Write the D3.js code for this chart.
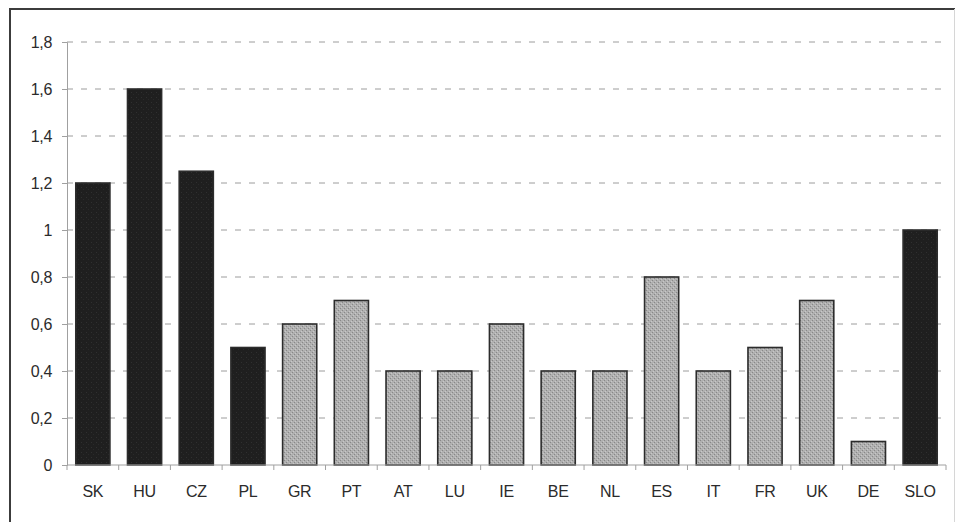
<!DOCTYPE html>
<html>
<head>
<meta charset="utf-8">
<script src="https://cdn.jsdelivr.net/npm/d3@7"></script>
<style>
  html, body { margin: 0; padding: 0; background: #fff; }
  svg { display: block; }
</style>
</head>
<body>
<svg id="chart" width="956" height="522"></svg>
<script>
// Countries, their values and which group each belongs to
const countries = ["SK","HU","CZ","PL","GR","PT","AT","LU","IE","BE","NL","ES","IT","FR","UK","DE","SLO"];
const values    = [1.2, 1.6, 1.25, 0.5, 0.6, 0.7, 0.4, 0.4, 0.6, 0.4, 0.4, 0.8, 0.4, 0.5, 0.7, 0.1, 1.0];
const groups    = ["new","new","new","new","old","old","old","old","old","old","old","old","old","old","old","old","new"];
const yTicks    = [0, 0.2, 0.4, 0.6, 0.8, 1, 1.2, 1.4, 1.6, 1.8];

const svg = d3.select("#chart");
const plot = { left: 67, right: 946, top: 42, bottom: 465 };
const font = "Liberation Sans, Arial, sans-serif";

// Stippled fills for the two bar groups
const defs = svg.append("defs");
const light = defs.append("pattern")
  .attr("id", "stippleLight").attr("patternUnits", "userSpaceOnUse")
  .attr("width", 4).attr("height", 4);
light.append("rect").attr("width", 4).attr("height", 4).attr("fill", "#b0b0b0");
light.append("rect").attr("x", 0).attr("y", 0).attr("width", 1).attr("height", 1).attr("fill", "#888888");
light.append("rect").attr("x", 2).attr("y", 2).attr("width", 1).attr("height", 1).attr("fill", "#888888");
light.append("rect").attr("x", 1).attr("y", 3).attr("width", 1).attr("height", 1).attr("fill", "#c8c8c8");
light.append("rect").attr("x", 3).attr("y", 1).attr("width", 1).attr("height", 1).attr("fill", "#c8c8c8");

const dark = defs.append("pattern")
  .attr("id", "stippleDark").attr("patternUnits", "userSpaceOnUse")
  .attr("width", 5).attr("height", 5);
dark.append("rect").attr("width", 5).attr("height", 5).attr("fill", "#1f1f1f");
dark.append("rect").attr("x", 1).attr("y", 2).attr("width", 1).attr("height", 1).attr("fill", "#303030");
dark.append("rect").attr("x", 3).attr("y", 4).attr("width", 1).attr("height", 1).attr("fill", "#2a2a2a");

// Outer frame: strong top and left edges, faint right edge
svg.append("line").attr("x1", 9).attr("x2", 955).attr("y1", 9).attr("y2", 9)
  .attr("stroke", "#3c3c3c").attr("stroke-width", 2);
svg.append("line").attr("x1", 10).attr("x2", 10).attr("y1", 8).attr("y2", 522)
  .attr("stroke", "#3c3c3c").attr("stroke-width", 2);
svg.append("line").attr("x1", 954.5).attr("x2", 954.5).attr("y1", 9).attr("y2", 522)
  .attr("stroke", "#d6d6d6").attr("stroke-width", 1);

const x = d3.scaleBand()
  .domain(countries)
  .range([plot.left, plot.right])
  .paddingInner(0.34)
  .paddingOuter(0.17);

const y = d3.scaleLinear()
  .domain([0, 1.8])
  .range([plot.bottom, plot.top]);

const fmt = d => d3.format("")(d).replace(".", ",");

// Dashed horizontal gridlines
svg.append("g")
  .selectAll("line")
  .data(yTicks.filter(t => t > 0))
  .join("line")
  .attr("x1", plot.left).attr("x2", plot.right - 3)
  .attr("y1", d => y(d)).attr("y2", d => y(d))
  .attr("stroke", "#9c9c9c")
  .attr("stroke-width", 1)
  .attr("stroke-dasharray", "6,8");

// Y axis
const yAxis = svg.append("g")
  .attr("transform", `translate(${plot.left},0)`)
  .call(d3.axisLeft(y).tickValues(yTicks).tickFormat(fmt).tickSize(5).tickPadding(10));
yAxis.select(".domain").attr("stroke", "#a0a0a0");
yAxis.selectAll(".tick line").attr("stroke", "#a0a0a0");
yAxis.selectAll("text")
  .attr("font-family", font)
  .attr("font-size", 16)
  .attr("letter-spacing", "-0.3px")
  .attr("fill", "#2b2b2b");

// Bars
svg.append("g")
  .selectAll("rect")
  .data(countries.map((c, i) => ({ c, v: values[i], g: groups[i] })))
  .join("rect")
  .attr("x", d => x(d.c))
  .attr("y", d => y(d.v))
  .attr("width", x.bandwidth())
  .attr("height", d => y(0) - y(d.v))
  .attr("fill", d => d.g === "new" ? "url(#stippleDark)" : "url(#stippleLight)")
  .attr("stroke", "#2c2c2c")
  .attr("stroke-width", 1.6);

// X axis with ticks between categories
const step = x.step();
const xg = svg.append("g");
xg.append("line")
  .attr("x1", plot.left).attr("x2", plot.right)
  .attr("y1", y(0)).attr("y2", y(0))
  .attr("stroke", "#a0a0a0");
xg.selectAll(".sep")
  .data(d3.range(countries.length + 1))
  .join("line")
  .attr("class", "sep")
  .attr("x1", i => plot.left + i * step)
  .attr("x2", i => plot.left + i * step)
  .attr("y1", y(0)).attr("y2", y(0) + 5)
  .attr("stroke", "#a0a0a0");
xg.selectAll("text")
  .data(countries)
  .join("text")
  .attr("x", d => x(d) + x.bandwidth() / 2)
  .attr("y", 497)
  .attr("text-anchor", "middle")
  .attr("font-family", font)
  .attr("font-size", 16)
  .attr("letter-spacing", "-0.3px")
  .attr("fill", "#2b2b2b")
  .text(d => d);
</script>
</body>
</html>
